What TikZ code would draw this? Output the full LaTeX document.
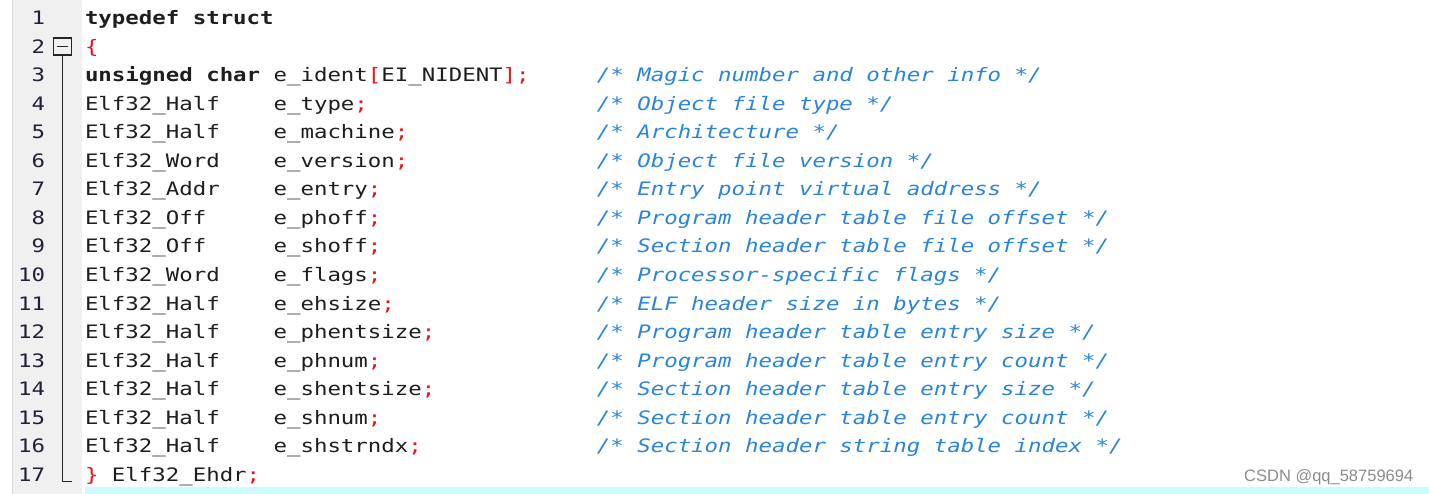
\documentclass[tikz,border=0pt]{standalone}
\usepackage{fontspec}
\newfontfamily\codefont[FakeStretch=1.21]{DejaVu Sans Mono}
\setsansfont{Liberation Sans}
\definecolor{codetext}{HTML}{1E1E1E}
\definecolor{codered}{HTML}{F01010}
\definecolor{codeblue}{HTML}{2A84DA}
\definecolor{numcol}{HTML}{202038}
\definecolor{gutter}{HTML}{F0F0F0}
\definecolor{gutterline}{HTML}{DADADA}
\definecolor{curline}{HTML}{CCFCFC}
\definecolor{wmark}{HTML}{8C8C8C}
\newcommand\rd[1]{\textcolor{codered}{#1}}
\tikzset{
  codebase/.style={inner sep=0pt, outer sep=0pt, anchor=base west, font=\codefont\fontsize{18.5bp}{20bp}\selectfont, text=codetext},
  lnum/.style={inner sep=0pt, outer sep=0pt, anchor=base east, font=\codefont\fontsize{18.5bp}{20bp}\selectfont, text=numcol},
  kwd/.style={codebase, font=\codefont\fontsize{18.5bp}{20bp}\selectfont\bfseries},
  cmt/.style={codebase, font=\codefont\fontsize{18.5bp}{20bp}\selectfont\itshape, text=codeblue},
  foldline/.style={draw=black!85, line width=1.2pt},
}
\begin{document}
\begin{tikzpicture}[x=1bp,y=-1bp]
\useasboundingbox (0,0) rectangle (1429,494);
% gutter
\fill[gutter] (13,0) rectangle (82,494);
\draw[gutterline, line width=1bp] (12.5,0) -- (12.5,494);
% current line highlight
\fill[curline] (85,487) rectangle (1429,494);
% fold marker
\node[draw=black!85, line width=1.2pt, minimum width=18bp, minimum height=17bp, inner sep=0pt] (fold) at (62.5,46.5) {};
\draw[foldline] ([xshift=4bp]fold.west) -- ([xshift=-4bp]fold.east);
\coordinate (foldend) at (62.5,481.5);
\coordinate (foldtip) at (72,481.5);
\draw[foldline] (fold.south) -- (foldend) -- (foldtip);
% line numbers
\node[lnum] (n1) at (45,25) {1};
\node[lnum] (n2) at (45,53.5) {2};
\node[lnum] (n3) at (45,82) {3};
\node[lnum] (n4) at (45,110.5) {4};
\node[lnum] (n5) at (45,139) {5};
\node[lnum] (n6) at (45,167.5) {6};
\node[lnum] (n7) at (45,196) {7};
\node[lnum] (n8) at (45,224.5) {8};
\node[lnum] (n9) at (45,253) {9};
\node[lnum] (n10) at (45,281.5) {10};
\node[lnum] (n11) at (45,310) {11};
\node[lnum] (n12) at (45,338.5) {12};
\node[lnum] (n13) at (45,367) {13};
\node[lnum] (n14) at (45,395.5) {14};
\node[lnum] (n15) at (45,424) {15};
\node[lnum] (n16) at (45,452.5) {16};
\node[lnum] (n17) at (45,481) {17};
% code: type column
\node[kwd] (t1) at (85,25) {typedef struct};
\node[codebase] (t2) at (85,53.5) {\rd{\{}};
\node[kwd] (t3) at (85,82) {unsigned char};
\node[codebase] (t4) at (85,110.5) {Elf32\_Half};
\node[codebase] (t5) at (85,139) {Elf32\_Half};
\node[codebase] (t6) at (85,167.5) {Elf32\_Word};
\node[codebase] (t7) at (85,196) {Elf32\_Addr};
\node[codebase] (t8) at (85,224.5) {Elf32\_Off};
\node[codebase] (t9) at (85,253) {Elf32\_Off};
\node[codebase] (t10) at (85,281.5) {Elf32\_Word};
\node[codebase] (t11) at (85,310) {Elf32\_Half};
\node[codebase] (t12) at (85,338.5) {Elf32\_Half};
\node[codebase] (t13) at (85,367) {Elf32\_Half};
\node[codebase] (t14) at (85,395.5) {Elf32\_Half};
\node[codebase] (t15) at (85,424) {Elf32\_Half};
\node[codebase] (t16) at (85,452.5) {Elf32\_Half};
\node[codebase] (t17) at (85,481) {\rd{\}} Elf32\_Ehdr\rd{;}};
% member names (column 14)
\node[codebase] (m3) at (273.6,82) {e\_ident\rd{[}EI\_NIDENT\rd{];}};
\node[codebase] (m4) at (273.6,110.5) {e\_type\rd{;}};
\node[codebase] (m5) at (273.6,139) {e\_machine\rd{;}};
\node[codebase] (m6) at (273.6,167.5) {e\_version\rd{;}};
\node[codebase] (m7) at (273.6,196) {e\_entry\rd{;}};
\node[codebase] (m8) at (273.6,224.5) {e\_phoff\rd{;}};
\node[codebase] (m9) at (273.6,253) {e\_shoff\rd{;}};
\node[codebase] (m10) at (273.6,281.5) {e\_flags\rd{;}};
\node[codebase] (m11) at (273.6,310) {e\_ehsize\rd{;}};
\node[codebase] (m12) at (273.6,338.5) {e\_phentsize\rd{;}};
\node[codebase] (m13) at (273.6,367) {e\_phnum\rd{;}};
\node[codebase] (m14) at (273.6,395.5) {e\_shentsize\rd{;}};
\node[codebase] (m15) at (273.6,424) {e\_shnum\rd{;}};
\node[codebase] (m16) at (273.6,452.5) {e\_shstrndx\rd{;}};
% comments (column 38)
\node[cmt] (c3) at (596.9,82) {/* Magic number and other info */};
\node[cmt] (c4) at (596.9,110.5) {/* Object file type */};
\node[cmt] (c5) at (596.9,139) {/* Architecture */};
\node[cmt] (c6) at (596.9,167.5) {/* Object file version */};
\node[cmt] (c7) at (596.9,196) {/* Entry point virtual address */};
\node[cmt] (c8) at (596.9,224.5) {/* Program header table file offset */};
\node[cmt] (c9) at (596.9,253) {/* Section header table file offset */};
\node[cmt] (c10) at (596.9,281.5) {/* Processor-specific flags */};
\node[cmt] (c11) at (596.9,310) {/* ELF header size in bytes */};
\node[cmt] (c12) at (596.9,338.5) {/* Program header table entry size */};
\node[cmt] (c13) at (596.9,367) {/* Program header table entry count */};
\node[cmt] (c14) at (596.9,395.5) {/* Section header table entry size */};
\node[cmt] (c15) at (596.9,424) {/* Section header table entry count */};
\node[cmt] (c16) at (596.9,452.5) {/* Section header string table index */};
% watermark
\node[inner sep=0pt, anchor=base west, text=wmark, font=\sffamily\fontsize{16.5bp}{18bp}\selectfont] (wm) at (1244,481.5) {CSDN @qq\_58759694};
\end{tikzpicture}
\end{document}
